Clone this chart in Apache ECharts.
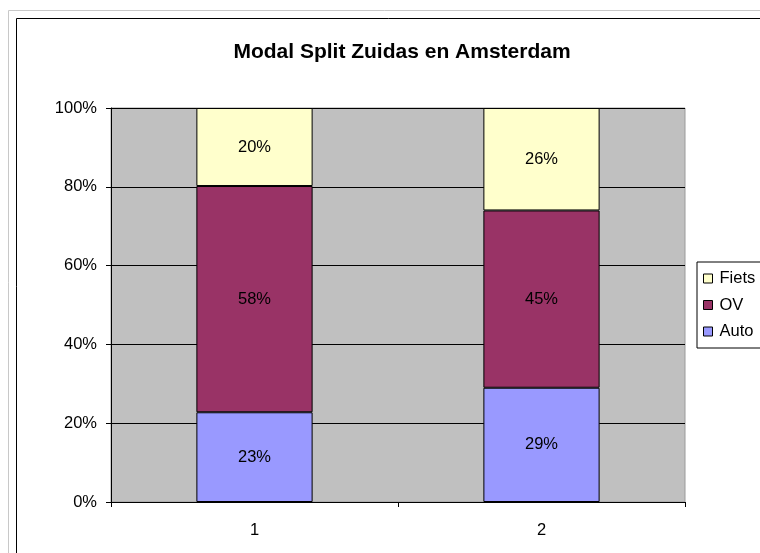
<!DOCTYPE html>
<html>
<head>
<meta charset="utf-8">
<script src="https://cdn.jsdelivr.net/npm/echarts@6/dist/echarts.min.js"></script>
<style>
html,body{margin:0;padding:0;background:#fff;}
#c{width:760px;height:553px;}
</style>
</head>
<body>
<div id="c"></div>
<script>
const categories = ['1', '2'];
const auto = [23, 29];
const ov = [58, 45];
const fiets = [20, 26];
const yTicks = ['0%', '20%', '40%', '60%', '80%', '100%'];

const totals = categories.map((_, i) => auto[i] + ov[i] + fiets[i]);
const norm = arr => arr.map((v, i) => ({ value: v / totals[i] * 100, raw: v }));

const font = 'Arial, "Liberation Sans", sans-serif';
const fs = 16.5;
const chart = echarts.init(document.getElementById('c'));

const barStyle = (color) => ({ color: color, borderColor: '#000', borderWidth: 1 });
const lbl = {
  show: true, position: 'inside', color: '#000', fontSize: fs, fontFamily: font,
  formatter: p => p.data.raw + '%'
};

chart.setOption({
  animation: false,
  backgroundColor: '#fff',
  graphic: [
    { type: 'rect', shape: { x: 8.5, y: 10.5, width: 800, height: 600 }, style: { fill: 'none', stroke: '#c8c8c8', lineWidth: 1 }, silent: true, z: -10 },
    { type: 'rect', shape: { x: 16.5, y: 18.5, width: 800, height: 600 }, style: { fill: 'none', stroke: '#000', lineWidth: 1 }, silent: true, z: -10 }
  ],
  title: {
    text: 'Modal Split Zuidas en Amsterdam',
    left: 397, top: 37, textAlign: 'center',
    textStyle: { fontFamily: font, fontSize: 21, fontWeight: 'bold', color: '#000' }
  },
  legend: {
    data: ['Fiets', 'OV', 'Auto'],
    orient: 'vertical',
    left: 697, top: 262,
    backgroundColor: '#fff',
    borderColor: '#000', borderWidth: 1,
    padding: [8, 10, 8, 6],
    itemWidth: 9, itemHeight: 9, itemGap: 9.5,
    icon: 'rect',
    itemStyle: { borderColor: '#000', borderWidth: 1 },
    textStyle: { fontFamily: font, fontSize: fs, color: '#000', padding: [0, 0, 0, 2] }
  },
  grid: {
    left: 111, right: 75, top: 108, bottom: 51,
    show: true, backgroundColor: '#C0C0C0', borderColor: '#9a9a9a', borderWidth: 1
  },
  xAxis: {
    type: 'category', data: categories,
    axisLine: { lineStyle: { color: '#000' } },
    axisTick: { show: true, length: 5, lineStyle: { color: '#000' } },
    axisLabel: { color: '#000', fontSize: fs, fontFamily: font, margin: 20 }
  },
  yAxis: {
    type: 'value', min: 0, max: 100, interval: 20,
    axisLine: { show: true, lineStyle: { color: '#000' } },
    axisTick: { show: true, length: 5, lineStyle: { color: '#000' } },
    axisLabel: { color: '#000', fontSize: fs, fontFamily: font, margin: 14,
      formatter: v => yTicks[Math.round(v / 20)] },
    splitLine: { lineStyle: { color: '#000', width: 1 } }
  },
  series: [
    { name: 'Auto', type: 'bar', stack: 't', data: norm(auto), barCategoryGap: '59.5%', itemStyle: barStyle('#9999FF'), label: lbl },
    { name: 'OV', type: 'bar', stack: 't', data: norm(ov), itemStyle: barStyle('#993366'), label: lbl },
    { name: 'Fiets', type: 'bar', stack: 't', data: norm(fiets), itemStyle: barStyle('#FFFFCC'), label: lbl }
  ]
});
</script>
</body>
</html>
